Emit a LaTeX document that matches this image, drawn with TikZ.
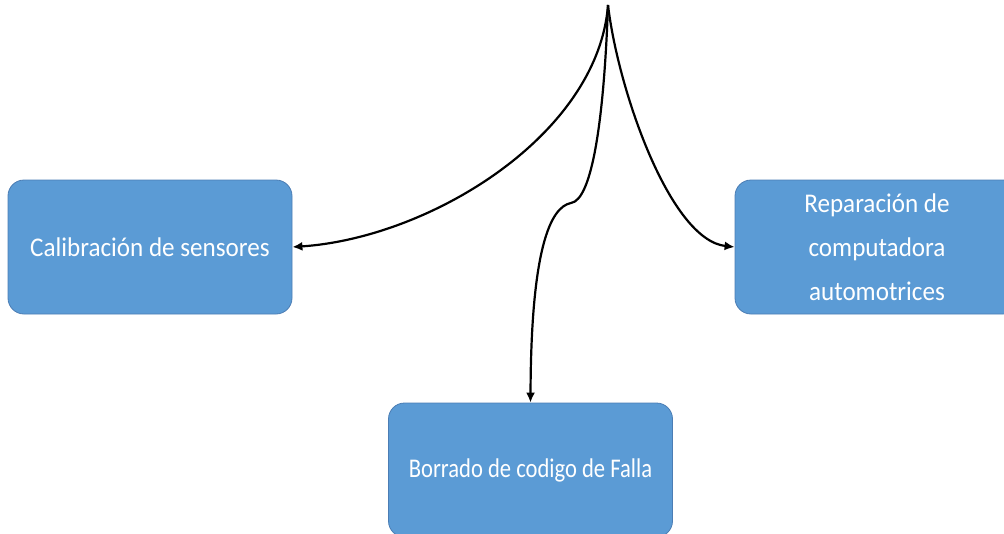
\documentclass[tikz,border=0pt]{standalone}
\usepackage{fontspec}
\setmainfont{Carlito}[FakeStretch=0.93]
\usetikzlibrary{arrows.meta}
\definecolor{boxblue}{RGB}{91,155,213}
\definecolor{boxedge}{RGB}{75,125,180}
\begin{document}
\begin{tikzpicture}[x=1pt,y=-1pt,
    box/.style={draw=boxedge,line width=0.8pt,fill=boxblue,rounded corners=16pt,
      minimum width=284pt,minimum height=134pt,text=white,align=center,
      font=\fontsize{27}{44}\selectfont}]
      \useasboundingbox (0,0) rectangle (1004,533);
      \clip (0,0) rectangle (1004,533);
      \draw
        (150,247) node[box] (calib){Calibración de sensores}
        (877,247) node[box] (repar){Reparación de\\computadora\\automotrices}
        (530.5,470) node[box] (borrado){\scalebox{0.9}[1]{Borrado de codigo de Falla}};
      \coordinate (top) at (608,5);
      \coordinate (bend) at (571,203);
      \begin{scope}[line width=2.2pt,-{Latex[length=10pt,width=9pt]}]
        \draw (top) .. controls (598,135) and (430,238) .. (calib.east);
        \draw (top) .. controls (618,90) and (670,240) .. (repar.west);
        \draw (top) .. controls (604,120) and (592,200) .. (bend)
          .. controls (550,207) and (531,250) .. (borrado.north);
      \end{scope}
    \end{tikzpicture}
\end{document}
